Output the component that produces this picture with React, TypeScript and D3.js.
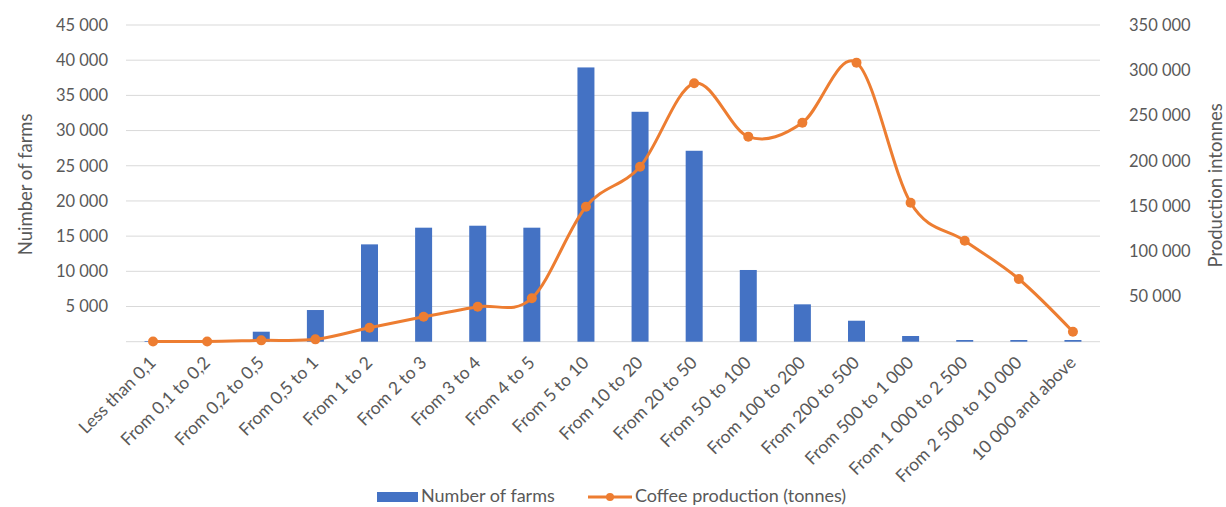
import React from "react";
import * as d3 from "d3";

const categories = [
  "Less than 0,1", "From 0,1 to 0,2", "From 0,2 to 0,5", "From 0,5 to 1", "From 1 to 2",
  "From 2 to 3", "From 3 to 4", "From 4 to 5", "From 5 to 10", "From 10 to 20",
  "From 20 to 50", "From 50 to 100", "From 100 to 200", "From 200 to 500",
  "From 500 to 1 000", "From 1 000 to 2 500", "From 2 500 to 10 000", "10 000 and above",
];
const farms = [100, 60, 1420, 4500, 13830, 16200, 16480, 16200, 38970, 32670, 27130, 10190, 5310, 2980, 810, 240, 240, 240];
const production = [300, 300, 1500, 2600, 15500, 27600, 38700, 48000, 149200, 193400, 285600, 226600, 242000, 308400, 153600, 111600, 69300, 11000];
const leftTicks = [5000, 10000, 15000, 20000, 25000, 30000, 35000, 40000, 45000];
const rightTicks = [50000, 100000, 150000, 200000, 250000, 300000, 350000];

const W = 1226, H = 507;
const plot = { left: 126, right: 1100, top: 25, bottom: 341.7 };
const font = "Lato, 'Open Sans', sans-serif";
const textColor = "#595959";

const fmt = (v: number) => d3.format(",")(v).replace(/,/g, " ");

export default function App() {
  const x = d3.scaleBand<string>().domain(categories).range([plot.left, plot.right]).paddingInner(0.686).paddingOuter(0.343);
  const xc = d3.scalePoint<string>().domain(categories).range([plot.left, plot.right]).padding(0.5);
  const yL = d3.scaleLinear().domain([0, 45000]).range([plot.bottom, plot.top]);
  const yR = d3.scaleLinear().domain([0, 350000]).range([plot.bottom, plot.top]);
  const line = d3.line<number>()
    .x((_, i) => xc(categories[i])!)
    .y((d) => yR(d))
    .curve(d3.curveCardinal.tension(0));

  return (
    <svg width={W} height={H} style={{ position: "absolute", left: 0, top: 0, background: "#fff" }} fontFamily={font}>
      {[0, ...leftTicks].map((t) => (
        <line key={"g" + t} x1={plot.left} x2={plot.right} y1={yL(t)} y2={yL(t)} stroke="#d9d9d9" strokeWidth={1} />
      ))}
      {leftTicks.map((t) => (
        <text key={"l" + t} x={108} y={yL(t)} dy="0.35em" textAnchor="end" fontSize={16.5} fill={textColor}>{fmt(t)}</text>
      ))}
      {rightTicks.map((t) => (
        <text key={"r" + t} x={1129} y={yR(t)} dy="0.35em" textAnchor="start" fontSize={16.5} fill={textColor}>{fmt(t)}</text>
      ))}
      <text transform={`translate(32,${(plot.top + plot.bottom) / 2 + 1}) rotate(-90)`} textAnchor="middle" fontSize={18.5} fill={textColor}>Nuimber of farms</text>
      <text transform={`translate(1222,${(plot.top + plot.bottom) / 2 + 2}) rotate(-90)`} textAnchor="middle" fontSize={18.5} fill={textColor}>Production intonnes</text>
      {farms.map((v, i) => (
        <rect key={"b" + i} x={x(categories[i])} y={yL(v)} width={x.bandwidth()} height={plot.bottom - yL(v)} fill="#4472C4" />
      ))}
      <path d={line(production)!} fill="none" stroke="#ED7D31" strokeWidth={3} strokeLinejoin="round" />
      {production.map((v, i) => (
        <circle key={"p" + i} cx={xc(categories[i])} cy={yR(v)} r={5} fill="#ED7D31" />
      ))}
      {categories.map((c) => (
        <text key={"c" + c} transform={`translate(${xc(c)! + 4},${plot.bottom + 22}) rotate(-45)`} textAnchor="end" fontSize={17.5} fill={textColor}>{c}</text>
      ))}
      <rect x={377} y={492} width={41} height={10} fill="#4472C4" />
      <text x={421} y={502} fontSize={18} fill={textColor}>Number of farms</text>
      <line x1={588} x2={632} y1={497} y2={497} stroke="#ED7D31" strokeWidth={3} />
      <circle cx={610} cy={497} r={4} fill="#ED7D31" />
      <text x={635} y={502} fontSize={18} fill={textColor}>Coffee production (tonnes)</text>
    </svg>
  );
}
